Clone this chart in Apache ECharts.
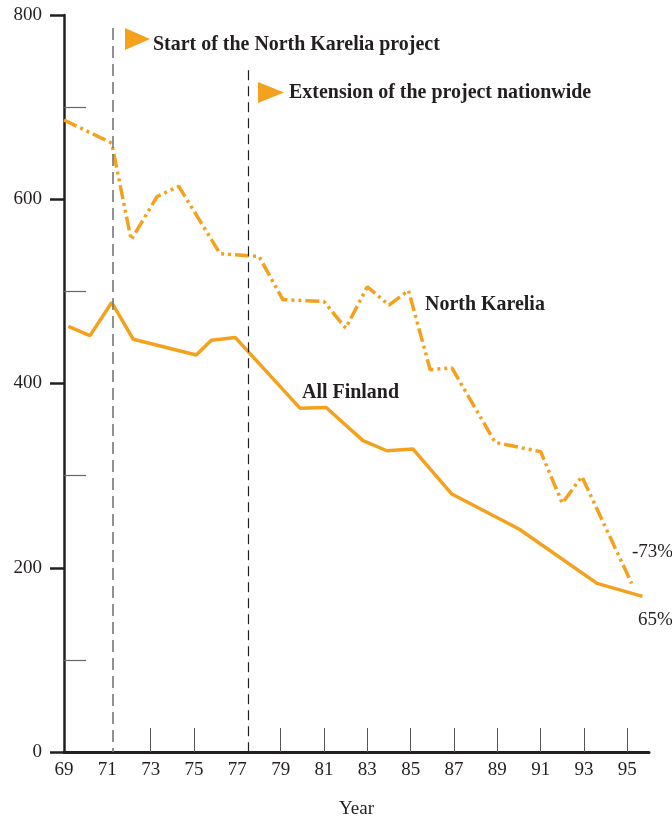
<!DOCTYPE html>
<html>
<head>
<meta charset="utf-8">
<script src="https://cdn.jsdelivr.net/npm/echarts@6/dist/echarts.min.js"></script>
<style>
html, body { margin: 0; padding: 0; background: #fff; }
#chart { width: 672px; height: 819px; }
</style>
</head>
<body>
<div id="chart"></div>
<script>
// values (deaths per 100 000)
const karYears = [69.0, 71.2, 72.1, 73.3, 74.3, 76.2, 78.0, 79.1, 81.0, 82.0, 83.0, 84.0, 84.9, 85.9, 86.9, 88.9, 91.0, 92.0, 92.9, 95.2];
const karValues = [686, 661, 556, 603, 614, 541, 538, 491, 489, 460, 505, 485, 501, 415, 417, 336, 326, 270, 299, 183];
const finYears = [69.2, 70.2, 71.2, 72.2, 75.1, 75.8, 76.9, 79.9, 81.1, 82.8, 83.9, 85.1, 86.9, 90.0, 93.6, 95.7];
const finValues = [462, 452, 488, 448, 431, 447, 450, 373, 374, 338, 327, 329, 280, 242, 183, 169];
const yearLabels = [69, 71, 73, 75, 77, 79, 81, 83, 85, 87, 89, 91, 93, 95];
const yearTicks = [73, 75, 79, 81, 83, 85, 87, 89, 91, 93, 95];
const minorValueTicks = [100, 300, 500, 700];
const eventYears = [71.25, 77.5];
const eventTops = [786, 740];

const orange = '#F4A11D';
const ink = '#231F20';
const serif = '"Liberation Serif", "DejaVu Serif", serif';

function zip(xs, ys) {
    return xs.map(function(x, i) { return [x, ys[i]]; });
}

const chart = echarts.init(document.getElementById('chart'));

const boldText = function(x, y, text) {
    return {
        type: 'text', x: x, y: y, scaleX: 0.95,
        style: { text: text, font: 'bold 21px ' + serif, fill: ink, verticalAlign: 'middle' }
    };
};
const plainText = function(x, y, text) {
    return {
        type: 'text', x: x, y: y,
        style: { text: text, font: '19px ' + serif, fill: ink, verticalAlign: 'middle' }
    };
};

chart.setOption({
    animation: false,
    backgroundColor: '#fff',
    grid: { left: 64, right: 23, top: 15, bottom: 67, outerBoundsMode: 'none' },
    xAxis: {
        type: 'value',
        min: 69,
        max: 96,
        name: 'Year',
        nameLocation: 'middle',
        nameGap: 48,
        nameTextStyle: { fontFamily: serif, fontSize: 19, color: ink },
        axisLine: { lineStyle: { color: ink, width: 3 } },
        axisTick: {
            inside: true, length: 24,
            customValues: yearTicks,
            lineStyle: { color: '#555', width: 1 }
        },
        axisLabel: {
            customValues: yearLabels,
            margin: 9,
            fontFamily: serif, fontSize: 19, color: ink
        },
        splitLine: { show: false }
    },
    yAxis: [{
        type: 'value',
        min: 0,
        max: 800,
        interval: 200,
        axisLine: { show: true, lineStyle: { color: ink, width: 2.5 } },
        axisTick: { show: true, length: 14, lineStyle: { color: ink, width: 2.5 } },
        axisLabel: { margin: 22, fontFamily: serif, fontSize: 19, color: ink },
        splitLine: { show: false }
    }, {
        type: 'value',
        min: 0,
        max: 800,
        position: 'left',
        axisLine: { show: false },
        axisTick: {
            show: true, inside: true, length: 22,
            customValues: minorValueTicks,
            lineStyle: { color: '#666', width: 1.2 }
        },
        axisLabel: { show: false },
        splitLine: { show: false }
    }],
    series: [{
        name: 'North Karelia',
        type: 'line',
        data: zip(karYears, karValues),
        symbol: 'none',
        lineStyle: { color: orange, width: 3.5, type: [14, 4, 3, 4, 3, 4] },
        markLine: {
            silent: true,
            symbol: 'none',
            label: { show: false },
            data: [
                [{ coord: [eventYears[0], eventTops[0]], lineStyle: { color: '#777', width: 1.6, type: [12, 6] } },
                 { coord: [eventYears[0], 0] }],
                [{ coord: [eventYears[1], eventTops[1]], lineStyle: { color: ink, width: 1.2, type: [10, 6] } },
                 { coord: [eventYears[1], 0] }]
            ]
        },
        z: 3
    }, {
        name: 'All Finland',
        type: 'line',
        data: zip(finYears, finValues),
        symbol: 'none',
        lineStyle: { color: orange, width: 3.5 },
        z: 3
    }],
    graphic: [
        { type: 'polygon', shape: { points: [[125, 28], [150, 39], [125, 50]] }, style: { fill: orange } },
        { type: 'polygon', shape: { points: [[258, 82], [284, 92.5], [258, 103]] }, style: { fill: orange } },
        boldText(153, 44.5, 'Start of the North Karelia project'),
        boldText(289, 93, 'Extension of the project nationwide'),
        boldText(425, 304.5, 'North Karelia'),
        boldText(302, 392.5, 'All Finland'),
        plainText(632, 552.5, '-73%'),
        plainText(638, 620.5, '65%')
    ]
});

window.addEventListener('resize', function() {
    chart.resize();
});
</script>
</body>
</html>
